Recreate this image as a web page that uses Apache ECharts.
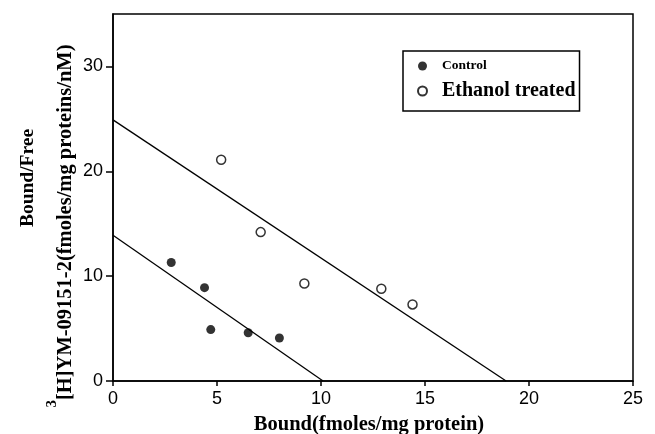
<!DOCTYPE html>
<html>
<head>
<meta charset="utf-8">
<script src="https://cdn.jsdelivr.net/npm/echarts@6/dist/echarts.min.js"></script>
<style>
  html, body { margin: 0; padding: 0; background: #fff; }
  #chart { width: 655px; height: 434px; }
</style>
</head>
<body>
<div id="chart"></div>
<script>
// values
const controlPoints = [[2.8, 11.3], [4.4, 8.9], [4.7, 4.9], [6.5, 4.6], [8.0, 4.1]];
const ethanolPoints = [[5.2, 21.1], [7.1, 14.2], [9.2, 9.3], [12.9, 8.8], [14.4, 7.3]];
const controlFit = [[0, 13.9], [10.1, 0]];
const ethanolFit = [[0, 24.9], [18.9, 0]];
const xTicks = [0, 5, 10, 15, 20, 25];
const yTicks = [0, 10, 20, 30];

const serif = "Liberation Serif";
const sans = "Liberation Sans";

const chart = echarts.init(document.getElementById("chart"));

chart.setOption({
  backgroundColor: "#fff",
  animation: false,
  grid: {
    left: 113,
    right: 22,
    top: 14,
    bottom: 53,
    show: true,
    borderColor: "#000",
    borderWidth: 1.5,
  },
  legend: {
    left: 403,
    top: 51,
    orient: "vertical",
    data: ["Control", "Ethanol treated"],
    itemWidth: 9,
    itemHeight: 9,
    itemGap: 8,
    padding: [8, 4, 10, 14],
    borderColor: "#000",
    borderWidth: 1.5,
    formatter: (name) => (name === "Control" ? "{c|Control}" : "{e|Ethanol treated}"),
    textStyle: {
      color: "#000",
      rich: {
        c: { fontFamily: serif, fontWeight: "bold", fontSize: 13.5, padding: [0, 0, 0, 10] },
        e: { fontFamily: serif, fontWeight: "bold", fontSize: 20, padding: [0, 0, 0, 10] },
      },
    },
  },
  xAxis: {
    type: "value",
    min: 0,
    max: 25,
    interval: 5,
    splitLine: { show: false },
    axisLine: { lineStyle: { color: "#000", width: 1.5 } },
    axisTick: { length: 5, lineStyle: { color: "#000", width: 1.5 }, customValues: xTicks },
    axisLabel: { color: "#000", fontFamily: sans, fontSize: 18, margin: 9, customValues: xTicks },
  },
  yAxis: {
    type: "value",
    min: 0,
    max: 35,
    interval: 10,
    splitLine: { show: false },
    axisLine: { lineStyle: { color: "#000", width: 1.5 } },
    axisTick: { length: 7, lineStyle: { color: "#000", width: 1.5 }, customValues: yTicks },
    axisLabel: { color: "#000", fontFamily: sans, fontSize: 18, margin: 10, customValues: yTicks },
  },
  graphic: [
    {
      type: "text",
      x: 28,
      y: 178,
      rotation: Math.PI / 2,
      style: {
        text: "Bound/Free",
        font: "bold 19.5px 'Liberation Serif'",
        fill: "#000",
        align: "center",
        verticalAlign: "middle",
      },
    },
    {
      type: "text",
      x: 66,
      y: 226,
      rotation: Math.PI / 2,
      style: {
        text: "{s|3}{n|[H]YM-09151-2(fmoles/mg proteins/nM)}",
        fill: "#000",
        align: "center",
        verticalAlign: "middle",
        rich: {
          s: { fontFamily: serif, fontWeight: "bold", fontSize: 15, verticalAlign: "top", padding: [0, 0, 28, 0] },
          n: { fontFamily: serif, fontWeight: "bold", fontSize: 20.5 },
        },
      },
    },
    {
      type: "text",
      x: 369,
      y: 425,
      style: {
        text: "Bound(fmoles/mg protein)",
        font: "bold 20.5px 'Liberation Serif'",
        fill: "#000",
        align: "center",
        verticalAlign: "middle",
      },
    },
  ],
  series: [
    {
      name: "Control",
      type: "scatter",
      data: controlPoints,
      symbol: "circle",
      symbolSize: 9,
      itemStyle: { color: "#000" },
    },
    {
      name: "Ethanol treated",
      type: "scatter",
      data: ethanolPoints,
      symbol: "circle",
      symbolSize: 9,
      itemStyle: { color: "#fff", borderColor: "#000", borderWidth: 1.5 },
    },
    {
      name: "controlFit",
      type: "line",
      data: controlFit,
      symbol: "none",
      lineStyle: { color: "#000", width: 1.3 },
      z: 1,
    },
    {
      name: "ethanolFit",
      type: "line",
      data: ethanolFit,
      symbol: "none",
      lineStyle: { color: "#000", width: 1.3 },
      z: 1,
    },
  ],
});
</script>
</body>
</html>
